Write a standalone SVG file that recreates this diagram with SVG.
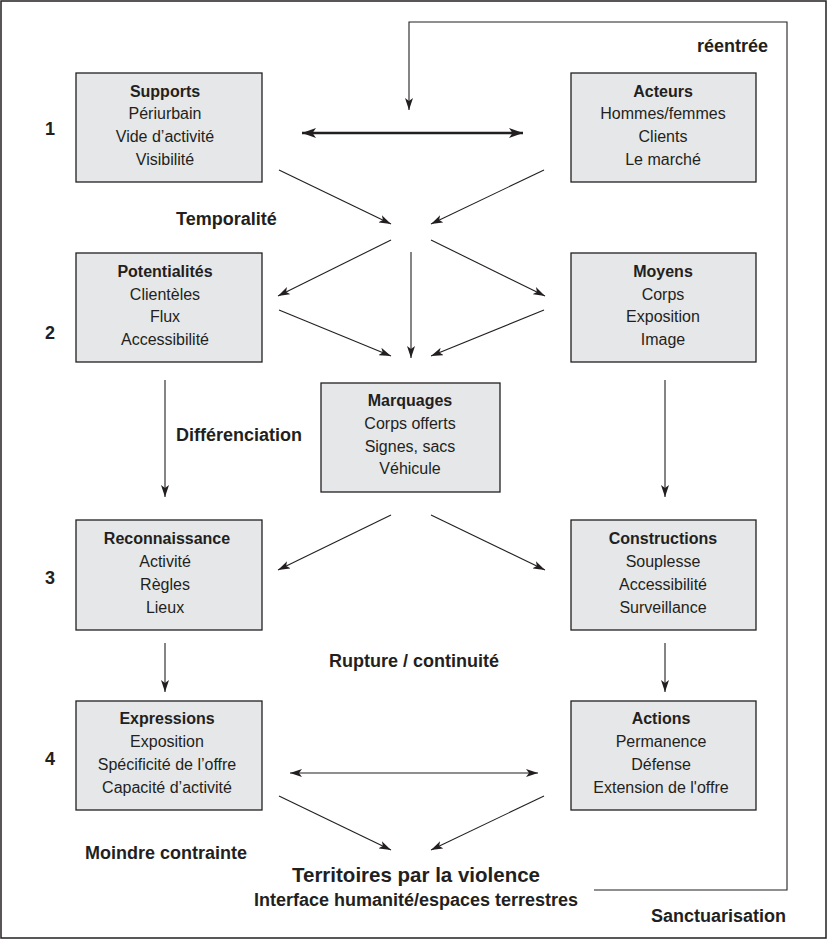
<svg xmlns="http://www.w3.org/2000/svg" width="828" height="940" viewBox="0 0 828 940">
<defs>
<style>
.box{fill:#e6e7e9;stroke:#231f20;stroke-width:1.3}
.t{font-family:"Liberation Sans",Arial,sans-serif;font-size:16px;fill:#231f20;text-anchor:middle}
.b{font-weight:bold}
.lbl{font-family:"Liberation Sans",Arial,sans-serif;font-size:18px;font-weight:bold;fill:#231f20}
.ln{fill:none;stroke:#231f20;stroke-width:1.1}
</style>
<marker id="ah" viewBox="0 0 12 8" refX="12" refY="4" markerWidth="12" markerHeight="8" markerUnits="userSpaceOnUse" orient="auto-start-reverse">
<path d="M0,0 L12,4 L0,8 L3,4 z" fill="#231f20"/>
</marker>
<marker id="ahb" viewBox="0 0 14 10" refX="14" refY="5" markerWidth="14" markerHeight="10" markerUnits="userSpaceOnUse" orient="auto-start-reverse">
<path d="M0,0 L14,5 L0,10 L3.5,5 z" fill="#231f20"/>
</marker>
</defs>
<rect x="1" y="1" width="825" height="937" fill="#fff" stroke="#231f20" stroke-width="1.5"/>

<g id="connectors">
<polyline class="ln" points="594,890 787,890 787,22 409,22 409,110" marker-end="url(#ah)"/>
<line x1="302" y1="133" x2="523" y2="133" stroke="#231f20" stroke-width="2.5" marker-start="url(#ahb)" marker-end="url(#ahb)"/>
<line class="ln" x1="279" y1="170" x2="391" y2="224" marker-end="url(#ah)"/>
<line class="ln" x1="544" y1="170" x2="431" y2="224" marker-end="url(#ah)"/>
<line class="ln" x1="391" y1="240" x2="278" y2="296" marker-end="url(#ah)"/>
<line class="ln" x1="431" y1="240" x2="545" y2="296" marker-end="url(#ah)"/>
<line class="ln" x1="411" y1="252" x2="411" y2="358" marker-end="url(#ah)"/>
<line class="ln" x1="279" y1="310" x2="391" y2="356" marker-end="url(#ah)"/>
<line class="ln" x1="544" y1="310" x2="431" y2="356" marker-end="url(#ah)"/>
<line class="ln" x1="165" y1="380" x2="165" y2="497" marker-end="url(#ah)"/>
<line class="ln" x1="665" y1="380" x2="665" y2="497" marker-end="url(#ah)"/>
<line class="ln" x1="391" y1="515" x2="278" y2="570" marker-end="url(#ah)"/>
<line class="ln" x1="431" y1="515" x2="545" y2="570" marker-end="url(#ah)"/>
<line class="ln" x1="165" y1="643" x2="165" y2="692" marker-end="url(#ah)"/>
<line class="ln" x1="665" y1="643" x2="665" y2="692" marker-end="url(#ah)"/>
<line class="ln" x1="290" y1="773" x2="538" y2="773" marker-start="url(#ah)" marker-end="url(#ah)"/>
<line class="ln" x1="279" y1="796" x2="391" y2="850" marker-end="url(#ah)"/>
<line class="ln" x1="544" y1="796" x2="431" y2="850" marker-end="url(#ah)"/>
</g>

<g id="supports">
<rect class="box" x="76" y="73" width="186" height="109"/>
<text class="t b" x="165" y="97">Supports</text>
<text class="t" x="165" y="119">Périurbain</text>
<text class="t" x="165" y="142">Vide d’activité</text>
<text class="t" x="165" y="165">Visibilité</text>
</g>
<g id="acteurs">
<rect class="box" x="571" y="73" width="185" height="109"/>
<text class="t b" x="663" y="97">Acteurs</text>
<text class="t" x="663" y="119">Hommes/femmes</text>
<text class="t" x="663" y="142">Clients</text>
<text class="t" x="663" y="165">Le marché</text>
</g>
<g id="potentialites">
<rect class="box" x="76" y="253" width="186" height="109"/>
<text class="t b" x="165" y="277">Potentialités</text>
<text class="t" x="165" y="300">Clientèles</text>
<text class="t" x="165" y="322">Flux</text>
<text class="t" x="165" y="345">Accessibilité</text>
</g>
<g id="moyens">
<rect class="box" x="571" y="253" width="185" height="109"/>
<text class="t b" x="663" y="277">Moyens</text>
<text class="t" x="663" y="300">Corps</text>
<text class="t" x="663" y="322">Exposition</text>
<text class="t" x="663" y="345">Image</text>
</g>
<g id="marquages">
<rect class="box" x="321" y="383" width="179" height="109"/>
<text class="t b" x="410" y="406">Marquages</text>
<text class="t" x="410" y="429">Corps offerts</text>
<text class="t" x="410" y="452">Signes, sacs</text>
<text class="t" x="410" y="474">Véhicule</text>
</g>
<g id="reconnaissance">
<rect class="box" x="76" y="520" width="186" height="110"/>
<text class="t b" x="167" y="544">Reconnaissance</text>
<text class="t" x="165" y="567">Activité</text>
<text class="t" x="165" y="590">Règles</text>
<text class="t" x="165" y="613">Lieux</text>
</g>
<g id="constructions">
<rect class="box" x="571" y="520" width="185" height="110"/>
<text class="t b" x="663" y="544">Constructions</text>
<text class="t" x="663" y="567">Souplesse</text>
<text class="t" x="663" y="590">Accessibilité</text>
<text class="t" x="663" y="613">Surveillance</text>
</g>
<g id="expressions">
<rect class="box" x="76" y="701" width="186" height="109"/>
<text class="t b" x="167" y="724">Expressions</text>
<text class="t" x="167" y="747">Exposition</text>
<text class="t" x="167" y="770">Spécificité de l’offre</text>
<text class="t" x="167" y="793">Capacité d’activité</text>
</g>
<g id="actions">
<rect class="box" x="571" y="701" width="185" height="109"/>
<text class="t b" x="661" y="724">Actions</text>
<text class="t" x="661" y="747">Permanence</text>
<text class="t" x="661" y="770">Défense</text>
<text class="t" x="661" y="793">Extension de l'offre</text>
</g>

<g id="labels">
<text class="lbl" x="50" y="135" text-anchor="middle">1</text>
<text class="lbl" x="50" y="339" text-anchor="middle">2</text>
<text class="lbl" x="50" y="584" text-anchor="middle">3</text>
<text class="lbl" x="50" y="765" text-anchor="middle">4</text>
<text class="lbl" x="176" y="225">Temporalité</text>
<text class="lbl" x="176" y="441">Différenciation</text>
<text class="lbl" x="329" y="667">Rupture / continuité</text>
<text class="lbl" x="85" y="859">Moindre contrainte</text>
<text class="lbl" x="697" y="52">réentrée</text>
<text class="lbl" x="651" y="922">Sanctuarisation</text>
<text class="lbl" x="416" y="882" text-anchor="middle" style="font-size:20.5px">Territoires par la violence</text>
<text class="lbl" x="416" y="906" text-anchor="middle" style="font-size:18px">Interface humanité/espaces terrestres</text>
</g>
</svg>
